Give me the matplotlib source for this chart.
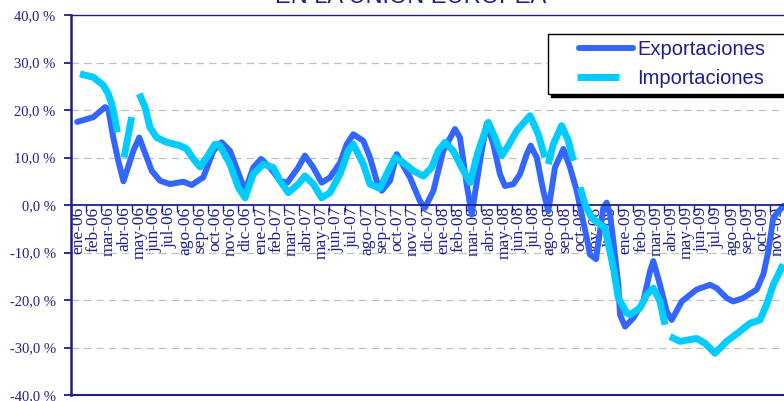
import matplotlib.pyplot as plt
from matplotlib.lines import Line2D
import numpy as np

nan = np.nan

# meses (posicion en meses desde ene-06) y tasas de variacion (%)
exp_mes = [0.41, 1.47, 2.24, 2.45, 2.78, 3.11, 3.45, 4.10, 4.49, 4.98, 5.31, 5.86, 6.51, 7.39, 7.94, 8.49,
           8.70, 9.36, 9.91, 10.46, 11.12, 11.45, 11.99, 12.50, 13.09, 13.75, 14.23, 14.95, 15.39, 15.94,
           16.49, 17.04, 17.70, 18.14, 18.57, 19.23, 19.67, 20.11, 20.44, 20.99, 21.43, 22.30, 22.96, 23.29,
           23.84, 24.49, 25.26, 25.59, 26.03, 26.36, 27.02, 27.35, 27.78, 28.22, 28.55, 29.10, 29.54, 29.98,
           30.24, 30.64, 31.07, 31.40, 31.84, 32.39, 32.83, 33.27, 33.60, 33.93, 34.14, 34.54, 35.02, 35.24,
           35.46, 35.68, 36.01, 36.12, 36.45, 36.99, 37.65, 38.09, 38.31, 38.75, 39.19, 39.52, 40.18, 41.16,
           42.04, 42.48, 43.14, 43.57, 44.22, 45.11, 45.55, 45.88, 46.20, 46.86]
exportaciones = [17.5, 18.5, 20.6, 20.2, 14.2, 9.3, 5.0, 11.4, 14.2, 10.0, 7.2, 5.1, 4.4, 4.9, 4.2, 5.4,
                 5.8, 11.4, 13.2, 11.4, 5.8, 3.0, 7.9, 9.7, 7.9, 5.1, 4.7, 7.9, 10.4, 7.9,
                 4.7, 5.8, 8.9, 12.8, 14.9, 13.5, 10.0, 5.1, 3.0, 5.1, 10.7, 5.8, 0.8, -0.6,
                 3.0, 11.4, 16.0, 14.2, 4.4, -2.0, 11.4, 17.1, 12.8, 6.5, 4.0, 4.4, 6.5, 10.7,
                 12.5, 10.0, 3.0, -1.3, 7.9, 11.8, 7.9, 3.0, -2.0, -6.9, -10.4, -11.4, -0.6, 0.5,
                 -2.0, -7.6, -16.8, -23.1, -25.6, -23.8, -20.3, -14.0, -11.8, -16.8, -22.4, -24.2, -20.3, -17.8,
                 -16.8, -17.5, -19.6, -20.3, -19.6, -17.8, -14.6, -9.7, -2.7, -0.2]

imp_mes = [0.59, 1.47, 2.13, 2.45, 2.68, 2.89, 3.05, 3.27, 3.49, 3.99, 4.24, 4.49, 4.87, 5.20, 5.64, 6.30,
           7.17, 7.61, 8.05, 8.49, 8.93, 9.47, 9.80, 10.46, 11.01, 11.45, 11.99, 12.65, 13.31, 13.75, 14.30,
           14.95, 15.39, 15.94, 16.49, 17.04, 17.70, 18.24, 18.57, 19.23, 19.67, 20.33, 20.77, 21.32, 21.86,
           22.52, 23.18, 23.73, 24.16, 24.61, 25.15, 25.70, 26.25, 26.80, 27.45, 27.89, 28.34, 28.77, 29.32,
           30.20, 30.74, 31.18, 31.29, 31.40, 31.73, 32.28, 32.72, 33.05, 33.27, 33.49, 33.82, 34.26, 34.80,
           35.13, 35.68, 36.01, 36.57, 36.78, 37.43, 37.88, 38.31, 38.75, 39.08, 39.25, 39.41, 40.07, 41.16,
           41.71, 42.37, 43.14, 44.01, 44.67, 45.33, 45.76, 46.20, 46.86]
importaciones = [27.6, 26.9, 25.2, 23.4, 21.3, 18.1, 15.3, nan, 10.0, 18.5, nan, 23.4, 20.6, 16.3, 14.2, 13.2,
                 12.5, 11.8, 9.7, 8.0, 10.0, 12.8, 12.5, 8.6, 3.7, 1.5, 6.5, 8.6, 7.9, 5.1, 2.6,
                 4.4, 6.1, 4.4, 1.5, 2.6, 6.5, 11.4, 12.8, 8.6, 4.4, 3.5, 6.5, 10.0, 8.9,
                 7.2, 6.1, 7.9, 11.4, 13.2, 11.4, 7.9, 4.7, 11.4, 17.4, 14.2, 10.4, 12.5, 15.6,
                 18.8, 14.9, 10.0, nan, 8.6, 12.8, 16.7, 13.5, 9.3, nan, 3.7, 0.1, -2.7, -4.1,
                 -4.8, -13.2, -19.6, -22.8, -23.1, -21.7, -18.9, -17.5, -20.3, -25.2, nan, -27.7, -28.7, -28.1,
                 -29.1, -31.2, -28.7, -26.6, -24.9, -24.2, -21.0, -16.8, -12.5]

meses = ['ene', 'feb', 'mar', 'abr', 'may', 'jun', 'jul', 'ago', 'sep', 'oct', 'nov', 'dic']
etiquetas = [m + '-' + a for a in ['06', '07', '08'] for m in meses] + [m + '-09' for m in meses[:11]]
y_ticks = [-40, -30, -20, -10, 0, 10, 20, 30, 40]

navy = '#1F1F8A'
azul = '#3366FF'
cian = '#00CCFF'

plt.rcParams['lines.scale_dashes'] = False

fig = plt.figure(figsize=(7.84, 4.01), dpi=100)
ax = fig.add_axes([71 / 784, 6 / 401, 714.4 / 784, 380 / 401])
ax.set_xlim(0, len(etiquetas))
ax.set_ylim(-40, 40)

for v in y_ticks:
    if v not in (-40, 0, 40):
        ax.axhline(v, color='#C0C0C0', lw=0.9, dashes=(5.5, 3.5), zorder=1)

ax.plot(exp_mes, exportaciones, color=azul, lw=4.3, solid_capstyle='round',
        solid_joinstyle='round', zorder=2)
ax.plot(imp_mes, importaciones, color=cian, lw=5, solid_capstyle='butt',
        solid_joinstyle='round', zorder=3)

ax.spines['right'].set_visible(False)
ax.spines['left'].set_color(navy)
ax.spines['left'].set_linewidth(1.8)
ax.spines['top'].set_color(navy)
ax.spines['top'].set_linewidth(1.0)
ax.spines['bottom'].set_position(('data', 0))
ax.spines['bottom'].set_color(navy)
ax.spines['bottom'].set_linewidth(1.3)
ax.axhline(-40, color=navy, lw=1.5, clip_on=False, zorder=4)

ax.set_yticks(y_ticks)
ax.set_yticklabels([('%.1f' % v).replace('.', ',') + ' %' for v in y_ticks],
                   family='Liberation Serif', fontsize=10.5, color=navy)
ax.tick_params(axis='y', direction='out', length=5, width=1.3, color=navy, pad=6)

ax.set_xticks(np.arange(0, len(etiquetas) + 1))
ax.set_xticks(np.arange(len(etiquetas)) + 0.5, minor=True)
ax.set_xticklabels(etiquetas, minor=True, rotation=90, family='Liberation Serif',
                   fontsize=12.5, color=navy)
ax.tick_params(axis='x', which='major', direction='out', length=5, width=1, color=navy,
               labelbottom=False)
ax.tick_params(axis='x', which='minor', length=0, pad=1)

h_exp = Line2D([], [], color=azul, lw=4.3, dash_capstyle='round',
               linestyle=(42.5, (38.9, 21.6)))
h_imp = Line2D([], [], color=cian, lw=5, dash_capstyle='butt',
               linestyle=(43.9, (30.2, 30.3)))
leg = ax.legend([h_exp, h_imp], ['Exportaciones', 'Importaciones'],
                loc='upper left', mode='expand',
                bbox_to_anchor=(548 / 784, 1 - 94 / 401, 250 / 784, 60 / 401),
                bbox_transform=fig.transFigure, borderaxespad=0,
                prop={'family': 'Liberation Sans', 'size': 14.5}, labelcolor=navy,
                handlelength=4.0, handletextpad=0.15, borderpad=0.3, labelspacing=0.5,
                frameon=True, fancybox=False, framealpha=1, edgecolor='black',
                shadow={'color': 'black', 'alpha': 1})
leg.get_frame().set_linewidth(1.0)

fig.text(411 / 784, 1 - 3 / 401, 'EN LA UNIÓN EUROPEA', ha='center', va='baseline',
         fontsize=17, color=navy, family='Liberation Sans')

fig.savefig('out.png', dpi=100)
